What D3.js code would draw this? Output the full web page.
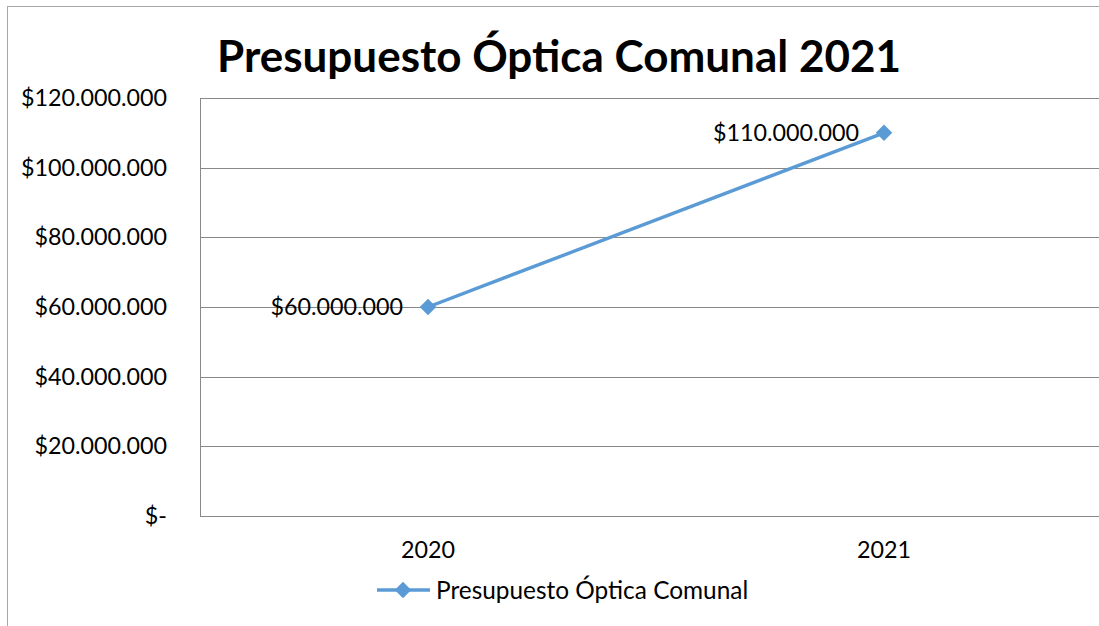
<!DOCTYPE html>
<html><head><meta charset="utf-8">
<script src="https://cdn.jsdelivr.net/npm/d3@7"></script>
<style>html,body{margin:0;padding:0;background:#fff;overflow:hidden}</style>
</head><body>
<svg id="c" width="1099" height="626"></svg>
<script>
const title = "Presupuesto Óptica Comunal 2021";
const seriesName = "Presupuesto Óptica Comunal";
const categories = ["2020", "2021"];
const values = [60000000, 110000000];
const yTicks = [0, 20000000, 40000000, 60000000, 80000000, 100000000, 120000000];

const FONT = "Lato, 'Open Sans', sans-serif";
const svg = d3.select("#c");
const fmt = v => v === 0 ? "$-" : "$" + d3.format(",")(v).replace(/,/g, ".");

// chart border
svg.append("rect").attr("x", 7.5).attr("y", 6.5).attr("width", 1200).attr("height", 700)
  .attr("fill", "#fff").attr("stroke", "#a6a6a6").attr("stroke-width", 1);

const pLeft = 200, pTop = 98, pBottom = 516, pRight = 1112;
const x = d3.scaleBand().domain(categories).range([pLeft, pRight]);
const y = d3.scaleLinear().domain([0, 120000000]).range([pBottom, pTop]);

// gridlines
svg.append("g").selectAll("line").data(yTicks.filter(d => d > 0)).join("line")
  .attr("x1", pLeft).attr("x2", pRight)
  .attr("y1", d => Math.round(y(d)) + 0.5).attr("y2", d => Math.round(y(d)) + 0.5)
  .attr("stroke", "#888").attr("stroke-width", 1);

// axes lines
svg.append("line").attr("x1", pLeft + 0.5).attr("x2", pLeft + 0.5).attr("y1", pTop).attr("y2", pBottom)
  .attr("stroke", "#888");
svg.append("line").attr("x1", pLeft).attr("x2", pRight).attr("y1", pBottom + 0.5).attr("y2", pBottom + 0.5)
  .attr("stroke", "#888");

// y labels
svg.append("g").selectAll("text").data(yTicks).join("text")
  .attr("x", 167).attr("y", d => y(d)).attr("dy", "0.35em")
  .attr("text-anchor", "end").attr("font-family", FONT).attr("font-size", 23.3).attr("fill", "#000")
  .text(fmt);

// x labels
svg.append("g").selectAll("text").data(categories).join("text")
  .attr("x", d => x(d) + x.bandwidth() / 2).attr("y", 550).attr("dy", "0.35em")
  .attr("text-anchor", "middle").attr("font-family", FONT).attr("font-size", 23.3).attr("fill", "#000")
  .text(d => d);

const pts = categories.map((c, i) => [x(c) + x.bandwidth() / 2, y(values[i])]);
const color = "#5B9BD5";
svg.append("path").attr("d", d3.line()(pts)).attr("fill", "none")
  .attr("stroke", color).attr("stroke-width", 3.4);
const diamond = d3.symbol().type(d3.symbolDiamond2).size(175);
svg.append("g").selectAll("path").data(pts).join("path")
  .attr("transform", d => `translate(${d[0]},${d[1]})`).attr("d", diamond).attr("fill", color);

// data labels
svg.append("g").selectAll("text").data(pts).join("text")
  .attr("x", d => d[0] - 25).attr("y", d => d[1]).attr("dy", "0.35em")
  .attr("text-anchor", "end").attr("font-family", FONT).attr("font-size", 23.3).attr("fill", "#000")
  .text((d, i) => fmt(values[i]));

// title
svg.append("text").attr("x", 559).attr("y", 57).attr("dy", "0.35em").attr("text-anchor", "middle")
  .attr("font-family", FONT).attr("font-weight", "bold").attr("font-size", 44).attr("fill", "#000")
  .text(title);

// legend
const ly = 590;
svg.append("line").attr("x1", 377).attr("x2", 430).attr("y1", ly).attr("y2", ly)
  .attr("stroke", color).attr("stroke-width", 3.4);
svg.append("path").attr("transform", `translate(403,${ly})`).attr("d", diamond).attr("fill", color);
svg.append("text").attr("x", 436).attr("y", ly).attr("dy", "0.35em")
  .attr("font-family", FONT).attr("font-size", 24.4).attr("fill", "#000").text(seriesName);
</script>
</body></html>
